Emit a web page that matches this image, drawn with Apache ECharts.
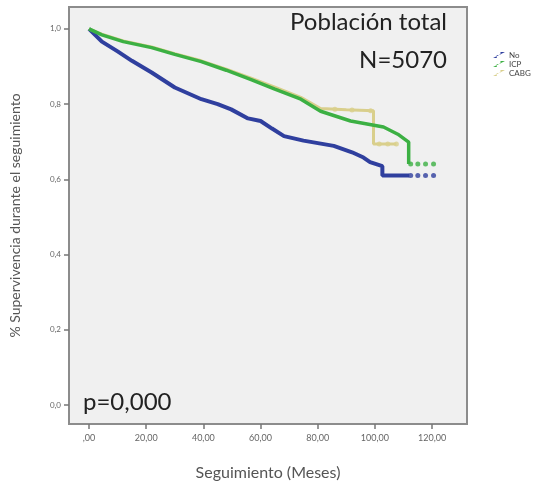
<!DOCTYPE html>
<html>
<head>
<meta charset="utf-8">
<script src="https://cdn.jsdelivr.net/npm/echarts@6/dist/echarts.min.js"></script>
<style>
  html, body { margin: 0; padding: 0; background: #fff; }
  #main { width: 544px; height: 486px; }
</style>
</head>
<body>
<div id="main"></div>
<script>
// Kaplan-Meier curves (months, survival); a repeated month is a vertical drop
const monthsNo = [0, 4.5, 10, 15, 21.9, 30, 39.3, 45, 49.7, 55.6, 60, 64, 68.2, 75, 85.6, 92, 96, 98.3, 102.6, 102.6, 112];
const survNo   = [1.0, 0.966, 0.94, 0.915, 0.884, 0.844, 0.813, 0.8, 0.786, 0.762, 0.755, 0.735, 0.715, 0.703, 0.689, 0.672, 0.658, 0.646, 0.635, 0.61, 0.61];

const monthsICP = [0, 4.5, 12, 21.9, 30, 39.3, 48, 56.7, 65, 74.1, 81, 91.5, 103, 108, 111.8, 111.8, 112];
const survICP   = [1.0, 0.984, 0.966, 0.95, 0.932, 0.913, 0.89, 0.865, 0.84, 0.813, 0.781, 0.755, 0.739, 0.72, 0.699, 0.641, 0.641];

const monthsCABG = [0, 4.5, 12, 21.9, 30, 39.3, 48, 56.7, 65, 74.1, 81, 90, 99.5, 99.5, 107.5];
const survCABG   = [1.0, 0.986, 0.968, 0.952, 0.934, 0.915, 0.893, 0.869, 0.845, 0.818, 0.788, 0.785, 0.782, 0.694, 0.694];

// censored observations (tail marks)
const censNo   = [[112.5, 0.61], [115, 0.61], [117.7, 0.61], [120.5, 0.61]];
const censICP  = [[112.5, 0.641], [115, 0.641], [117.7, 0.641], [120.5, 0.641]];
const censCABG = [[86, 0.786], [92, 0.784], [98.5, 0.782], [101.5, 0.694], [104.5, 0.694], [107.5, 0.694]];

const xTicks = [0, 20, 40, 60, 80, 100, 120];
const xTickLabels = [',00', '20,00', '40,00', '60,00', '80,00', '100,00', '120,00'];
const yTicks = [0, 0.2, 0.4, 0.6, 0.8, 1.0];
const yTickLabels = ['0,0', '0,2', '0,4', '0,6', '0,8', '1,0'];

const groupNames = ['No', 'ICP', 'CABG'];
const colors = ['#2f3f9e', '#3cb043', '#d9cf8c'];

function zip(xs, ys) {
  return xs.map((x, i) => [x, ys[i]]);
}

const chart = echarts.init(document.getElementById('main'));

const lineBase = {
  type: 'line',
  showSymbol: false,
  symbol: 'none',
  animation: false
};

const option = {
  animation: false,
  textStyle: { fontFamily: 'Lato' },
  grid: {
    left: 67, right: 77, top: 7, bottom: 59,
    show: true,
    backgroundColor: '#f0f0f0',
    borderColor: '#8c8c8c',
    borderWidth: 2
  },
  legend: {
    orient: 'vertical',
    left: 488, top: 46,
    itemWidth: 16, itemHeight: 6, itemGap: 1,
    icon: 'path://M0,10 L5,10 L5,6 L10,6 L10,2 L16,2',
    data: groupNames,
    textStyle: { fontSize: 8, color: '#444', padding: [0, 0, 0, -3] }
  },
  xAxis: {
    type: 'value',
    min: -7, max: 132.2,
    name: 'Seguimiento (Meses)',
    nameLocation: 'middle',
    nameGap: 41,
    nameTextStyle: { fontSize: 16, color: '#555' },
    axisLine: { show: false, onZero: false },
    splitLine: { show: false },
    axisTick: { show: true, customValues: xTicks, length: 5, lineStyle: { color: '#777', width: 1.5 } },
    axisLabel: {
      customValues: xTicks,
      fontSize: 9, color: '#666', margin: 10,
      formatter: v => xTickLabels[xTicks.indexOf(v)]
    }
  },
  yAxis: {
    type: 'value',
    min: -0.05, max: 1.058,
    name: '% Supervivencia durante el seguimiento',
    nameLocation: 'middle',
    nameGap: 47,
    nameTextStyle: { fontSize: 14, color: '#555' },
    axisLine: { show: false, onZero: false },
    splitLine: { show: false },
    axisTick: { show: true, customValues: yTicks, length: 5, lineStyle: { color: '#777', width: 1.5 } },
    axisLabel: {
      customValues: yTicks,
      fontSize: 8, color: '#666', margin: 8,
      formatter: v => yTickLabels[yTicks.indexOf(v)]
    }
  },
  graphic: [
    { type: 'text', right: 544 - 447, top: 10, style: { text: 'Población total', fontSize: 24, fontFamily: 'Lato', fill: '#222' } },
    { type: 'text', right: 544 - 447, top: 48, style: { text: 'N=5070', fontSize: 24, fontFamily: 'Lato', fill: '#222' } },
    { type: 'text', left: 83, top: 390, style: { text: 'p=0,000', fontSize: 24, fontFamily: 'Lato', fill: '#222' } }
  ],
  series: [
    Object.assign({}, lineBase, { name: groupNames[0], data: zip(monthsNo, survNo), lineStyle: { color: colors[0], width: 4 }, itemStyle: { color: colors[0] }, z: 3 }),
    Object.assign({}, lineBase, { name: groupNames[2], data: zip(monthsCABG, survCABG), lineStyle: { color: colors[2], width: 3 }, itemStyle: { color: colors[2] }, z: 4 }),
    Object.assign({}, lineBase, { name: groupNames[1], data: zip(monthsICP, survICP), lineStyle: { color: colors[1], width: 3.5 }, itemStyle: { color: colors[1] }, z: 5 }),
    { type: 'scatter', data: censNo, symbol: 'circle', symbolSize: 5, itemStyle: { color: colors[0] }, z: 6 },
    { type: 'scatter', data: censICP, symbol: 'circle', symbolSize: 5, itemStyle: { color: colors[1] }, z: 6 },
    { type: 'scatter', data: censCABG, symbol: 'circle', symbolSize: 5, itemStyle: { color: colors[2] }, z: 6 }
  ]
};

chart.setOption(option);
</script>
</body>
</html>
